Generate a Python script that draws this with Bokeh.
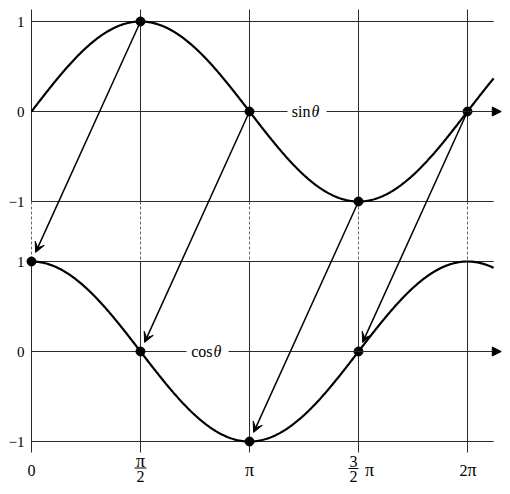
import numpy as np
from bokeh.plotting import figure
from bokeh.models import Arrow, VeeHead, NormalHead, Range1d
from bokeh.core.properties import value
from bokeh.embed import file_html
from bokeh.resources import INLINE

PI = np.pi
# ---- data ----
theta_ticks = [0, PI / 2, PI, 3 * PI / 2, 2 * PI]
value_ticks = [1, 0, -1]
value_tick_labels = ["1", "0", "\u22121"]
sin_marks_theta = [PI / 2, PI, 3 * PI / 2, 2 * PI]
sin_marks_value = [1, 0, -1, 0]
cos_marks_theta = [0, PI / 2, PI, 3 * PI / 2]
cos_marks_value = [1, 0, -1, 0]
theta_curve_end = 6.66      # curves run a little past 2π
theta_axis_end = 6.77       # horizontal zero axes (arrow tips)

# ---- layout helpers (screen pixel -> data) ----
W, H = 510, 494
PX_RAD = 436 / (2 * PI)
PY_UNIT = 90.0
OFF = 240 / PY_UNIT          # vertical offset of the sin panel


def X(px):
    return (px - 31) / PX_RAD


def DX(px):
    return px / PX_RAD


def Y(py):
    return (351 - py) / PY_UNIT


p = figure(width=W, height=H, x_range=Range1d(X(0), X(W)),
           y_range=Range1d(Y(H), Y(0)), output_backend="svg",
           toolbar_location=None, x_axis_type=None, y_axis_type=None,
           min_border=0)
p.grid.visible = False
p.outline_line_color = None

GRID = "#2a2a2a"
FONT = value("Liberation Serif")

# vertical lines
xs = theta_ticks
p.segment(x0=xs, y0=[Y(9)] * 5, x1=xs, y1=[OFF - 1] * 5, line_color=GRID, line_width=1)
p.segment(x0=xs, y0=[OFF - 1] * 5, x1=xs, y1=[1] * 5, line_color="#666666",
          line_width=1, line_dash="3 2")
p.segment(x0=xs, y0=[1] * 5, x1=xs, y1=[Y(452)] * 5, line_color=GRID, line_width=1)

# horizontal ±1 lines
for base in (OFF, 0.0):
    for v in (1, -1):
        p.segment(x0=[0], y0=[base + v], x1=[theta_curve_end], y1=[base + v],
                  line_color=GRID, line_width=1)

# zero axes with label gaps and arrows
gaps = {OFF: (X(287), X(326)), 0.0: (X(186), X(228))}
for base, (g0, g1) in gaps.items():
    p.segment(x0=[0], y0=[base], x1=[g0], y1=[base], line_color=GRID, line_width=1)
    p.add_layout(Arrow(x_start=g1, y_start=base, x_end=theta_axis_end, y_end=base,
                       line_color=GRID, line_width=1,
                       end=NormalHead(size=9, fill_color="black", line_color="black")))

# curves
th = np.linspace(0, theta_curve_end, 500)
p.line(th, OFF + np.sin(th), line_color="black", line_width=2.2)
p.line(th, np.cos(th), line_color="black", line_width=2.2)

# arrows from sin marks to cos marks
for ts, vs, tc, vc in zip(sin_marks_theta, sin_marks_value, cos_marks_theta, cos_marks_value):
    ys, yc = OFF + vs, vc
    dx = (tc - ts) * PX_RAD
    dy = (yc - ys) * PY_UNIT
    L = np.hypot(dx, dy)
    f = 1 - 10 / L
    p.add_layout(Arrow(x_start=ts, y_start=ys,
                       x_end=ts + (tc - ts) * f, y_end=ys + (yc - ys) * f,
                       line_color="black", line_width=1.5,
                       end=VeeHead(size=10, fill_color="black", line_color="black",
                                   line_width=1)))

# marks
p.scatter(sin_marks_theta, [OFF + v for v in sin_marks_value], size=9, color="black")
p.scatter(cos_marks_theta, cos_marks_value, size=9, color="black")

# y tick labels
for base in (OFF, 0.0):
    p.text(x=[X(24)] * 3, y=[base + v for v in value_ticks], text=value_tick_labels,
           text_font=FONT, text_font_size="15px", text_align="right",
           text_baseline="middle", text_color="black")

# curve labels
CL = dict(text_font=FONT, text_font_size="16px", text_baseline="middle",
          text_color="black")
p.text(x=[X(310)], y=[OFF], text=["sin"], text_align="right", **CL)
p.text(x=[X(311)], y=[OFF], text=["\u03b8"], text_font_style="italic",
       text_align="left", **CL)
p.text(x=[X(212)], y=[0], text=["cos"], text_align="right", **CL)
p.text(x=[X(213)], y=[0], text=["\u03b8"], text_font_style="italic",
       text_align="left", **CL)

# x tick labels
LBL = dict(text_font=FONT, text_font_size="16px", text_align="center",
           text_baseline="middle", text_color="black")
PIL = dict(LBL, text_font_size="18px")
p.text(x=[theta_ticks[0]], y=[Y(470)], text=["0"], **LBL)
p.text(x=[theta_ticks[2]], y=[Y(469)], text=["\u03c0"], **PIL)
p.text(x=[theta_ticks[4] - DX(4)], y=[Y(470)], text=["2"], **LBL)
p.text(x=[theta_ticks[4] + DX(4.5)], y=[Y(469)], text=["\u03c0"], **PIL)
# π/2
p.text(x=[theta_ticks[1]], y=[Y(460)], text=["\u03c0"], **PIL)
p.text(x=[theta_ticks[1]], y=[Y(476)], text=["2"], **LBL)
p.segment(x0=[theta_ticks[1] - DX(6)], y0=[Y(467.5)], x1=[theta_ticks[1] + DX(6)],
          y1=[Y(467.5)], line_color="black", line_width=1)
# 3/2 π
fx = theta_ticks[3] - DX(5)
p.text(x=[fx], y=[Y(461)], text=["3"], **LBL)
p.text(x=[fx], y=[Y(476)], text=["2"], **LBL)
p.segment(x0=[fx - DX(5)], y0=[Y(468)], x1=[fx + DX(5)], y1=[Y(468)],
          line_color="black", line_width=1)
p.text(x=[theta_ticks[3] + DX(11)], y=[Y(469)], text=["\u03c0"], **PIL)

open("out.html", "w").write(file_html(p, INLINE))
